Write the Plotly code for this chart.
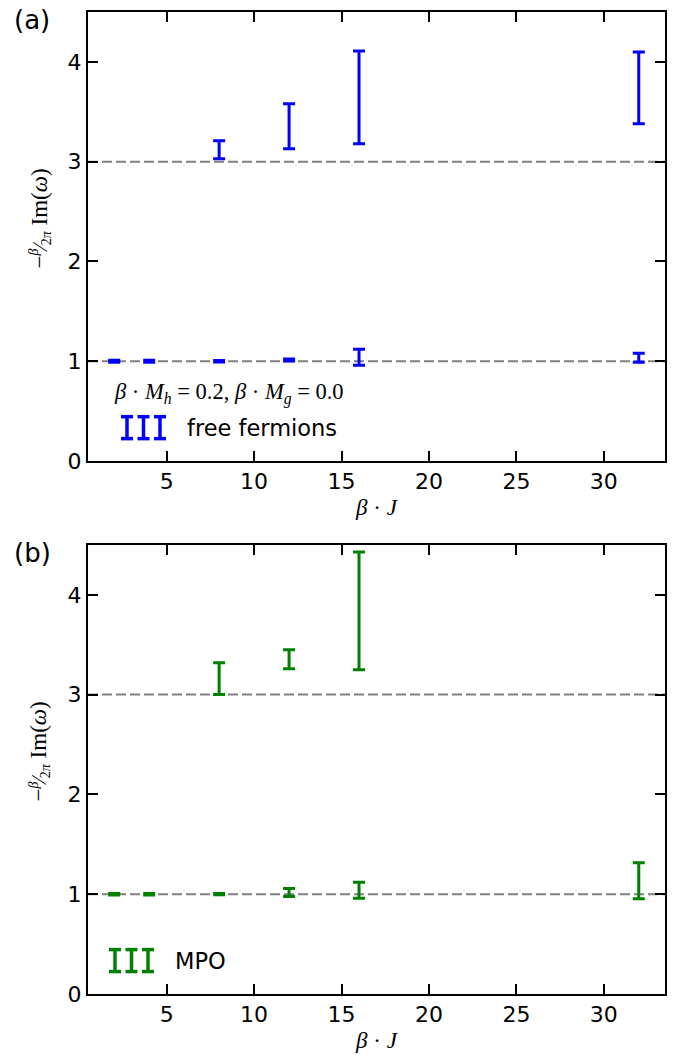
import plotly.graph_objects as go
from plotly.subplots import make_subplots

# ---------------- data ----------------
beta_J = [2, 4, 8, 12, 16, 32]

# (a) free fermions
ff_low_y = [1.0, 1.0, 1.0, 1.012, 1.04, 1.035]
ff_low_err = [0.01, 0.01, 0.008, 0.01, 0.08, 0.045]
ff_high_x = [8, 12, 16, 32]
ff_high_y = [3.12, 3.355, 3.645, 3.74]
ff_high_err = [0.09, 0.225, 0.465, 0.36]

# (b) MPO
mpo_low_y = [1.0, 1.0, 1.0, 1.018, 1.04, 1.134]
mpo_low_err = [0.008, 0.008, 0.006, 0.04, 0.08, 0.18]
mpo_high_x = [8, 12, 16]
mpo_high_y = [3.16, 3.355, 3.84]
mpo_high_err = [0.16, 0.095, 0.59]

ref_lines = [1, 3]
x_ticks = [5, 10, 15, 20, 25, 30]
y_ticks = [0, 1, 2, 3, 4]
x_range = [0.5, 33.5]
y_range = [0, 4.5]

BLUE = "#0000ff"
GREEN = "#008000"
GRAY = "#808080"

W, H = 679, 1055
L, R, T, B = 88, 14, 10, 61
PW = W - L - R
PH_TOTAL = H - T - B
top_dom = [(H - B - 460) / PH_TOTAL, 1.0]
bot_dom = [0.0, 450 / PH_TOTAL]

fig = make_subplots(rows=2, cols=1)


def add_err(x, y, err, color, row):
    fig.add_trace(
        go.Scatter(
            x=x, y=y, mode="markers",
            marker=dict(size=1, color="rgba(0,0,0,0)"),
            error_y=dict(type="data", array=err, visible=True,
                         color=color, thickness=3, width=6),
            showlegend=False, hoverinfo="skip",
        ),
        row=row, col=1,
    )


add_err(beta_J, ff_low_y, ff_low_err, BLUE, 1)
add_err(ff_high_x, ff_high_y, ff_high_err, BLUE, 1)
add_err(beta_J, mpo_low_y, mpo_low_err, GREEN, 2)
add_err(mpo_high_x, mpo_high_y, mpo_high_err, GREEN, 2)

axis_common = dict(
    showline=True, linecolor="black", linewidth=2, mirror="ticks",
    ticks="inside", ticklen=10, tickwidth=2, tickcolor="black",
    showgrid=False, zeroline=False,
    tickfont=dict(family="DejaVu Sans", size=22, color="black"),
)

fig.update_xaxes(range=x_range, tickvals=x_ticks, **axis_common)
fig.update_yaxes(range=y_range, tickvals=y_ticks, **axis_common)
fig.update_xaxes(domain=[0, 1])
fig.update_yaxes(domain=top_dom, row=1, col=1)
fig.update_yaxes(domain=bot_dom, row=2, col=1)

shapes = []
for xr, yr in (("x", "y"), ("x2", "y2")):
    for yv in ref_lines:
        shapes.append(dict(type="line", xref=f"{xr} domain", yref=yr,
                           x0=0, x1=1, y0=yv, y1=yv, layer="below",
                           line=dict(color=GRAY, width=2, dash="10px,4px")))


# legend handles (three small error-bar glyphs), in panel-domain coords
def handle(xr, yr, panel_bottom_px, centers_px, ytop_px, ybot_px, color):
    out = []
    def dx(px):
        return (px - L) / PW
    def dy(py):
        return (panel_bottom_px - py) / 450
    for cx in centers_px:
        out.append(dict(type="line", xref=f"{xr} domain", yref=f"{yr} domain",
                        x0=dx(cx), x1=dx(cx), y0=dy(ytop_px), y1=dy(ybot_px),
                        line=dict(color=color, width=3.5)))
        for yy in (ytop_px, ybot_px):
            out.append(dict(type="line", xref=f"{xr} domain", yref=f"{yr} domain",
                            x0=dx(cx - 6), x1=dx(cx + 6), y0=dy(yy), y1=dy(yy),
                            line=dict(color=color, width=3.5)))
    return out


shapes += handle("x", "y", 460, [127, 143.5, 160], 415.5, 437.5, BLUE)
shapes += handle("x2", "y2", 994, [115, 131.5, 148], 949.5, 971.5, GREEN)

ylab = ("−<span style='font-size:20px'><sup><i>β</i></sup>⁄<sub>2<i>π</i></sub></span>"
        " Im(<i>ω</i>)")
serif = dict(family="Liberation Serif", size=23, color="black")
ann = []
for xr, yr in (("x", "y"), ("x2", "y2")):
    ann.append(dict(text=ylab, xref=f"{xr} domain", yref=f"{yr} domain",
                    x=(40 - L) / PW, y=0.5 + 18 / 450, textangle=-90, showarrow=False,
                    xanchor="center", yanchor="middle",
                    font=dict(family="Liberation Serif", size=23, color="black")))
    ann.append(dict(text="<i>β</i> · <i>J</i>", xref=f"{xr} domain", yref=f"{yr} domain",
                    x=0.5, y=-47 / 450, showarrow=False,
                    xanchor="center", yanchor="middle", font=serif))

ann.append(dict(text="(a)", xref="x domain", yref="y domain",
                x=(12 - L) / PW, y=(460 - 18) / 450, showarrow=False,
                xanchor="left", yanchor="middle",
                font=dict(family="DejaVu Sans", size=26, color="black")))
ann.append(dict(text="(b)", xref="x2 domain", yref="y2 domain",
                x=(12 - L) / PW, y=(994 - 552) / 450, showarrow=False,
                xanchor="left", yanchor="middle",
                font=dict(family="DejaVu Sans", size=26, color="black")))

ann.append(dict(text="<i>β</i> · <i>M</i><sub><i>h</i></sub> = 0.2, <i>β</i> · <i>M</i><sub><i>g</i></sub> = 0.0",
                xref="x domain", yref="y domain",
                x=(229 - L) / PW, y=(460 - 392) / 450, showarrow=False,
                xanchor="center", yanchor="middle",
                font=dict(family="Liberation Serif", size=22.5, color="black")))
ann.append(dict(text="free fermions", xref="x domain", yref="y domain",
                x=(185 - L) / PW, y=(460 - 427) / 450, showarrow=False,
                xanchor="left", yanchor="middle",
                font=dict(family="DejaVu Sans", size=22.5, color="black")))
ann.append(dict(text="MPO", xref="x2 domain", yref="y2 domain",
                x=(173 - L) / PW, y=(994 - 961) / 450, showarrow=False,
                xanchor="left", yanchor="middle",
                font=dict(family="DejaVu Sans", size=22.5, color="black")))

fig.update_layout(
    width=W, height=H,
    margin=dict(l=L, r=R, t=T, b=B, pad=0),
    paper_bgcolor="white", plot_bgcolor="white",
    shapes=shapes, annotations=ann, showlegend=False,
)

fig.write_html("out.html")
